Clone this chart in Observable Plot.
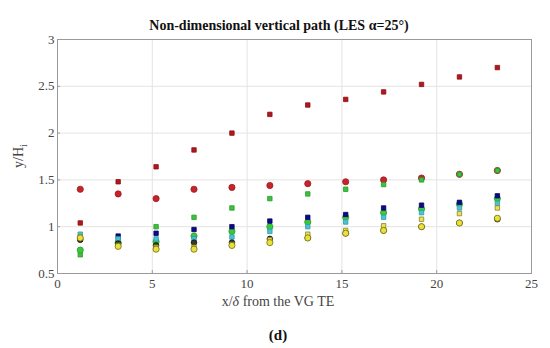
<!DOCTYPE html>
<html>
<head>
<meta charset="utf-8">
<script src="https://cdn.jsdelivr.net/npm/d3@7"></script>
<script src="https://cdn.jsdelivr.net/npm/@observablehq/plot@0.6"></script>
<style>
  html, body { margin: 0; padding: 0; background: #fff; }
  body { width: 550px; height: 348px; overflow: hidden; font-family: "Liberation Serif", "DejaVu Serif", serif; }
  #title { box-sizing: border-box; height: 32px; padding-top: 19px; line-height: 14px; font-size: 14px; font-weight: bold; text-align: center; padding-left: 8px; color: #111; }
  #caption { box-sizing: border-box; padding-top: 14px; line-height: 15px; font-size: 15px; font-weight: bold; text-align: center; padding-left: 6px; color: #111; }
  svg { display: block; }
  svg text { font-family: "Liberation Serif", "DejaVu Serif", serif !important; }
</style>
</head>
<body>
<div id="title">Non-dimensional vertical path (LES α=25°)</div>
<div id="chart"></div>
<div id="caption">(d)</div>
<script>
// x/δ stations
const xs = [1.2, 3.2, 5.2, 7.2, 9.2, 11.2, 13.2, 15.2, 17.2, 19.2, 21.2, 23.2];
// y/H_i values per series
const redSquares   = [1.04, 1.48, 1.64, 1.82, 2.00, 2.20, 2.30, 2.36, 2.44, 2.52, 2.60, 2.70];
const redCircles   = [1.40, 1.35, 1.30, 1.40, 1.42, 1.44, 1.46, 1.48, 1.50, 1.52, 1.56, 1.60];
const greenSquares = [0.70, 0.85, 1.00, 1.10, 1.20, 1.30, 1.35, 1.40, 1.45, 1.50, 1.56, 1.60];
const greenCircles = [0.75, 0.83, 0.84, 0.90, 0.95, 1.00, 1.05, 1.10, 1.15, 1.19, 1.24, 1.30];
const navySquares  = [0.87, 0.90, 0.93, 0.97, 1.00, 1.06, 1.10, 1.13, 1.20, 1.23, 1.26, 1.33];
const cyanSquares  = [0.92, 0.87, 0.87, 0.87, 0.89, 0.95, 1.00, 1.05, 1.10, 1.15, 1.20, 1.25];
const yellowSquares= [0.89, 0.80, 0.78, 0.78, 0.81, 0.86, 0.92, 0.96, 1.01, 1.08, 1.14, 1.20];
const blackCircles = [0.86, 0.82, 0.80, 0.83, 0.83, 0.87, 0.88, 0.93, 0.96, 1.00, 1.04, 1.08];
const yellowCircles= [0.88, 0.79, 0.76, 0.76, 0.80, 0.83, 0.88, 0.93, 0.96, 1.00, 1.04, 1.09];
const xTicks = [0, 5, 10, 15, 20, 25];
const yTicks = [0.5, 1, 1.5, 2, 2.5, 3];

const seriesStyles = [
  {values: redSquares,    symbol: "square", fill: "#b2171d", stroke: "#8a1015", r: 2.5},
  {values: redCircles,    symbol: "circle", fill: "#c8232a", stroke: "#9a1a1f", r: 3.1},
  {values: greenSquares,  symbol: "square", fill: "#3cc23c", stroke: "#2a9a2a", r: 2.5},
  {values: greenCircles,  symbol: "circle", fill: "#3cc83c", stroke: "#2a9a2a", r: 3.1},
  {values: navySquares,   symbol: "square", fill: "#0a0a8a", stroke: "#05055e", r: 2.5},
  {values: cyanSquares,   symbol: "square", fill: "#48c4d2", stroke: "#2f9aa8", r: 2.5},
  {values: blackCircles,  symbol: "circle", fill: "#3a3a2a", stroke: "#111", r: 2.8},
  {values: yellowSquares, symbol: "square", fill: "#e8e060", stroke: "#8a8420", r: 2.5},
  {values: yellowCircles, symbol: "circle", fill: "#e8e23a", stroke: "#6e6a10", r: 3.1}
];

const dotMarks = seriesStyles.map(s =>
  Plot.dot(xs.map((x, i) => ({x, y: s.values[i]})), {
    x: "x", y: "y", symbol: s.symbol, r: s.r,
    fill: s.fill, stroke: s.stroke, strokeWidth: 0.8
  })
);

const serif = "Liberation Serif, DejaVu Serif, serif";
const chart = Plot.plot({
  width: 550,
  height: 282,
  marginLeft: 57,
  marginRight: 19,
  marginTop: 7,
  marginBottom: 41,
  style: {fontFamily: serif, fontSize: "13px", color: "#444", background: "#fff"},
  x: {domain: [0, 25]},
  y: {domain: [0.5, 3]},
  marks: [
    Plot.gridX(xTicks, {stroke: "#e4e4e4", strokeOpacity: 1}),
    Plot.gridY(yTicks, {stroke: "#e4e4e4", strokeOpacity: 1}),
    Plot.frame({stroke: "#9a9a9a"}),
    Plot.axisX(xTicks, {tickSize: -3, tickPadding: 8, label: null, stroke: "#9a9a9a", fill: "#444", fontSize: 13, fontFamily: serif, tickFormat: d => String(d)}),
    Plot.axisY(yTicks, {tickSize: -3, tickPadding: 6, label: null, stroke: "#9a9a9a", fill: "#444", fontSize: 13, fontFamily: serif, tickFormat: d => String(d)}),
    ...dotMarks
  ]
});
document.getElementById("chart").appendChild(chart);

const svg = d3.select(chart);
svg.append("text")
  .attr("x", 278).attr("y", 271)
  .attr("text-anchor", "middle").attr("dominant-baseline", "middle")
  .attr("font-size", 14).attr("fill", "#444")
  .html('x/<tspan font-style="italic">δ</tspan> from the VG TE');
const yl = svg.append("text")
  .attr("transform", "translate(23,124) rotate(-90)")
  .attr("text-anchor", "middle")
  .attr("font-size", 14).attr("fill", "#444");
yl.append("tspan").text("y/H");
yl.append("tspan").attr("font-size", 10).attr("dy", 4).text("i");
</script>
</body>
</html>
